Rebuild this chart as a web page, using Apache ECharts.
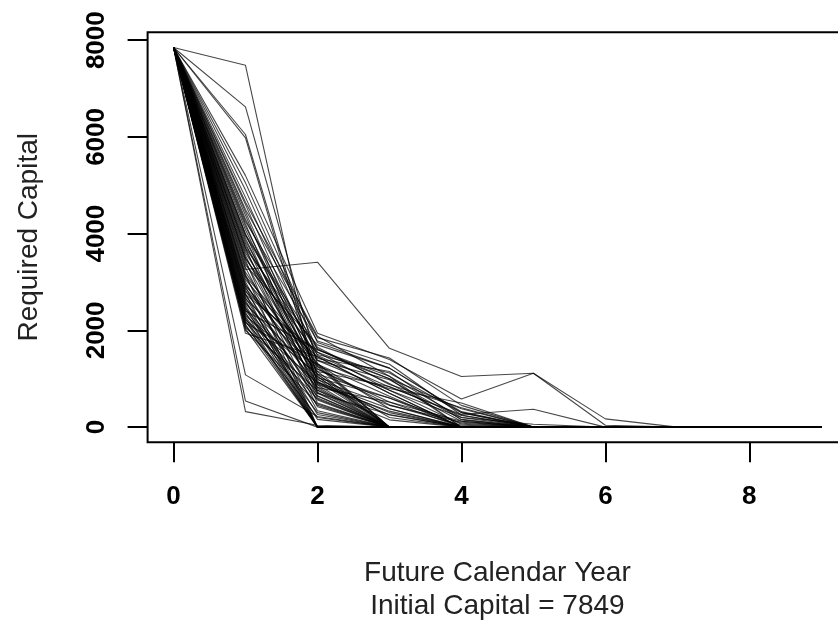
<!DOCTYPE html>
<html><head><meta charset="utf-8">
<script src="https://cdn.jsdelivr.net/npm/echarts@6/dist/echarts.min.js"></script>
<style>html,body{margin:0;padding:0;background:#fff}#c{width:838px;height:621px}</style>
</head><body><div id="c"></div><script>
const years = [0, 1, 2, 3, 4, 5, 6, 7, 8, 9];
const initialCapital = 7849;

const year1Values = [
  7480, 6620, 6050, 5980, 5200, 5050, 4900, 3260, 1940, 1080,
  540, 320, 4750, 4600, 4500, 4450, 4380, 4300, 4200, 4150,
  4080, 4000, 3950, 3900, 3850, 3800, 3750, 3700, 3650, 3600,
  3550, 3500, 3450, 3400, 3350, 3300, 3200, 3150, 3100, 3050,
  3000, 2950, 2900, 2870, 2830, 2800, 2760, 2720, 2680, 2650,
  2620, 2580, 2550, 2520, 2480, 2450, 2420, 2400, 2370, 2340,
  2300, 2280, 2250, 2220, 2200, 2170, 2150, 2120, 2100, 2060,
  2030, 2000, 4650, 3980, 3480, 3120, 2920, 4250, 3700, 2740
];
const year2Values = [
  700, 1300, 1050, 900, 1940, 1750, 1600, 3410, 1460, 220,
  0, 40, 1480, 1250, 1850, 1100, 950, 1380, 800, 1200,
  1000, 650, 1550, 880, 1150, 720, 1420, 500, 980, 1280,
  600, 1080, 0, 830, 1700, 420, 1020, 0, 760, 1320,
  340, 930, 0, 1150, 560, 1450, 0, 870, 260, 1200,
  0, 700, 1050, 160, 0, 820, 450, 1600, 0, 640,
  1100, 300, 0, 920, 0, 580, 1300, 0, 200, 760,
  0, 480, 1880, 1650, 1500, 1380, 1250, 1780, 1620, 1550
];
const year3Values = [
  0, 380, 0, 250, 1400, 1220, 1050, 1630, 700, 0,
  0, 0, 830, 0, 1430, 600, 0, 760, 0, 520,
  0, 0, 1000, 330, 0, 0, 1150, 0, 450, 0,
  0, 200, 0, 0, 1220, 0, 600, 0, 150, 0,
  0, 380, 0, 840, 0, 700, 0, 0, 0, 460,
  0, 260, 0, 0, 0, 520, 0, 1000, 0, 0,
  0, 0, 0, 300, 0, 0, 640, 0, 0, 0,
  0, 0, 1050, 880, 1120, 980, 800, 1300, 900, 760
];
const year4Values = [
  0, 0, 0, 0, 580, 300, 0, 1045, 0, 0,
  0, 0, 260, 0, 450, 0, 0, 200, 0, 0,
  0, 0, 380, 0, 0, 0, 150, 0, 100, 0,
  0, 0, 0, 0, 320, 0, 80, 0, 0, 0,
  0, 0, 0, 240, 0, 0, 0, 0, 0, 40,
  0, 0, 0, 0, 0, 120, 0, 0, 0, 0,
  0, 0, 0, 0, 0, 0, 0, 0, 0, 0,
  0, 0, 200, 400, 300, 160, 500, 250, 120, 60
];
const year5Values = [
  0, 0, 0, 0, 1115, 0, 0, 1115, 0, 0,
  0, 0, 370, 0, 0, 0, 0, 0, 0, 0,
  0, 0, 0, 0, 0, 0, 0, 0, 0, 0,
  0, 0, 0, 0, 0, 0, 0, 0, 0, 0,
  0, 0, 0, 0, 0, 0, 0, 0, 0, 0,
  0, 0, 0, 0, 0, 0, 0, 0, 0, 0,
  0, 0, 0, 0, 0, 0, 0, 0, 0, 0,
  0, 0, 60, 0, 0, 0, 0, 0, 0, 0
];
const year6Values = [
  0, 0, 0, 0, 40, 0, 0, 170, 0, 0,
  0, 0, 0, 0, 0, 0, 0, 0, 0, 0,
  0, 0, 0, 0, 0, 0, 0, 0, 0, 0,
  0, 0, 0, 0, 0, 0, 0, 0, 0, 0,
  0, 0, 0, 0, 0, 0, 0, 0, 0, 0,
  0, 0, 0, 0, 0, 0, 0, 0, 0, 0,
  0, 0, 0, 0, 0, 0, 0, 0, 0, 0,
  0, 0, 0, 0, 0, 0, 0, 0, 0, 0
];
const year7Values = [
  0, 0, 0, 0, 0, 0, 0, 0, 0, 0,
  0, 0, 0, 0, 0, 0, 0, 0, 0, 0,
  0, 0, 0, 0, 0, 0, 0, 0, 0, 0,
  0, 0, 0, 0, 0, 0, 0, 0, 0, 0,
  0, 0, 0, 0, 0, 0, 0, 0, 0, 0,
  0, 0, 0, 0, 0, 0, 0, 0, 0, 0,
  0, 0, 0, 0, 0, 0, 0, 0, 0, 0,
  0, 0, 0, 0, 0, 0, 0, 0, 0, 0
];
const year8Values = [
  0, 0, 0, 0, 0, 0, 0, 0, 0, 0,
  0, 0, 0, 0, 0, 0, 0, 0, 0, 0,
  0, 0, 0, 0, 0, 0, 0, 0, 0, 0,
  0, 0, 0, 0, 0, 0, 0, 0, 0, 0,
  0, 0, 0, 0, 0, 0, 0, 0, 0, 0,
  0, 0, 0, 0, 0, 0, 0, 0, 0, 0,
  0, 0, 0, 0, 0, 0, 0, 0, 0, 0,
  0, 0, 0, 0, 0, 0, 0, 0, 0, 0
];
const year9Values = [
  0, 0, 0, 0, 0, 0, 0, 0, 0, 0,
  0, 0, 0, 0, 0, 0, 0, 0, 0, 0,
  0, 0, 0, 0, 0, 0, 0, 0, 0, 0,
  0, 0, 0, 0, 0, 0, 0, 0, 0, 0,
  0, 0, 0, 0, 0, 0, 0, 0, 0, 0,
  0, 0, 0, 0, 0, 0, 0, 0, 0, 0,
  0, 0, 0, 0, 0, 0, 0, 0, 0, 0,
  0, 0, 0, 0, 0, 0, 0, 0, 0, 0
];

const xTicks = [0, 2, 4, 6, 8];
const yTicks = [0, 2000, 4000, 6000, 8000];
const xAxisTitle = 'Future Calendar Year';
const yAxisTitle = 'Required Capital';

const laterColumns = [year1Values, year2Values, year3Values, year4Values, year5Values,
  year6Values, year7Values, year8Values, year9Values];

const series = year1Values.map((_, i) => ({
  type: 'line',
  symbol: 'none',
  silent: true,
  animation: false,
  lineStyle: { color: '#000', width: 1.1, opacity: 0.72 },
  data: years.map((yr, k) => [yr, k === 0 ? initialCapital : laterColumns[k - 1][i]])
}));

const xPad = 0.04 * (years[years.length - 1] - years[0]);
const yPad = 0.04 * initialCapital;
const font = 'Liberation Sans, Arial, Helvetica, sans-serif';

const chart = echarts.init(document.getElementById('c'), null, { renderer: 'canvas' });
chart.setOption({
  animation: false,
  backgroundColor: '#fff',
  grid: {
    show: true, borderColor: '#000', borderWidth: 2, backgroundColor: 'transparent',
    left: 147.6, top: 32.3, right: -9.2, bottom: 178.7,
    containLabel: false, outerBoundsMode: 'none'
  },
  xAxis: {
    type: 'value',
    min: years[0] - xPad, max: years[years.length - 1] + xPad,
    splitLine: { show: false },
    axisLine: { show: false, onZero: false },
    axisTick: { show: true, inside: false, length: 20, customValues: xTicks,
      lineStyle: { color: '#000', width: 2 } },
    axisLabel: { customValues: xTicks, fontSize: 26, fontWeight: 'bold', color: '#000',
      fontFamily: font, margin: 42, formatter: v => String(v) },
    name: xAxisTitle + '\nInitial Capital = ' + initialCapital,
    nameLocation: 'middle', nameGap: 114,
    nameTextStyle: { fontSize: 28, lineHeight: 33, color: '#222', fontFamily: font }
  },
  yAxis: {
    type: 'value',
    min: -yPad, max: initialCapital + yPad,
    splitLine: { show: false },
    axisLine: { show: false, onZero: false },
    axisTick: { show: true, inside: false, length: 20, customValues: yTicks,
      lineStyle: { color: '#000', width: 2 } },
    axisLabel: { customValues: yTicks, rotate: 90, fontSize: 26, fontWeight: 'bold', color: '#000',
      fontFamily: font, margin: 38, formatter: v => String(v) },
    name: yAxisTitle,
    nameLocation: 'middle', nameGap: 104,
    nameTextStyle: { fontSize: 28, color: '#222', fontFamily: font }
  },
  series: series
});
</script></body></html>
